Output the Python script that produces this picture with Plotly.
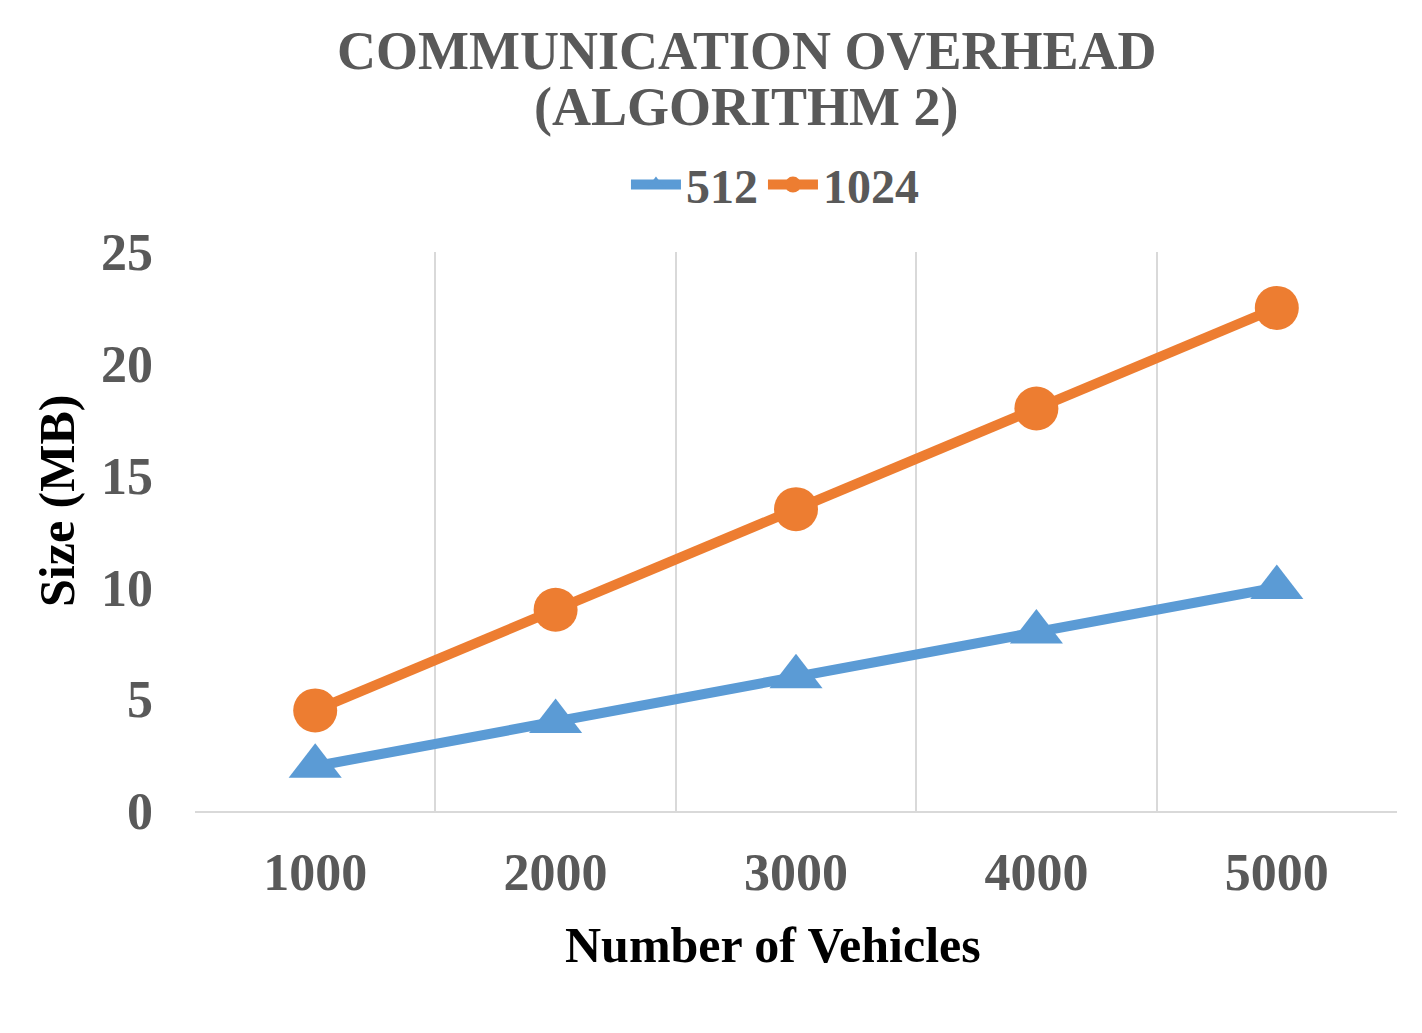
"""
Communication overhead (Algorithm 2) line chart, Excel-style, in Plotly.
"""
import plotly.graph_objects as go

vehicles = ["1000", "2000", "3000", "4000", "5000"]
size_512 = [2, 4, 6, 8, 10]
size_1024 = [4.5, 9, 13.5, 18, 22.5]
y_ticks = [0, 5, 10, 15, 20, 25]

SERIF = "Liberation Serif, Times New Roman, serif"
GREY_TEXT = "#595959"
GRID = "#D9D9D9"


def main() -> None:
    fig = go.Figure()

    fig.add_trace(go.Scatter(
        x=vehicles, y=size_512, name="512", mode="lines+markers",
        line=dict(color="#5B9BD5", width=10),
        marker=dict(symbol="triangle-up", size=46, color="#5B9BD5"),
    ))
    fig.add_trace(go.Scatter(
        x=vehicles, y=size_1024, name="1024", mode="lines+markers",
        line=dict(color="#ED7D31", width=10),
        marker=dict(symbol="circle", size=44, color="#ED7D31"),
    ))

    tick_font = dict(family=SERIF, size=52, color=GREY_TEXT, weight="bold")
    title_font = dict(family=SERIF, size=54, color=GREY_TEXT, weight="bold")
    axis_title_font = dict(family=SERIF, size=50, color="black", weight="bold")

    # the page body adds 8px, so margins are trimmed to keep the plot in place
    fig.update_layout(
        width=1422, height=1033,
        margin=dict(l=187, r=33, t=244, b=230),
        paper_bgcolor="white", plot_bgcolor="white",
        showlegend=True,
        legend=dict(
            orientation="h", x=0.4825, y=1.12, xanchor="center", yanchor="middle",
            font=dict(family=SERIF, size=48, color=GREY_TEXT, weight="bold"),
            itemsizing="trace", itemwidth=50, tracegroupgap=0,
        ),
        annotations=[
            dict(text="COMMUNICATION OVERHEAD", xref="paper", yref="paper",
                 x=0.459, y=1.3596, xanchor="center", yanchor="middle",
                 showarrow=False, font=title_font),
            dict(text="(ALGORITHM 2)", xref="paper", yref="paper",
                 x=0.459, y=1.2594, xanchor="center", yanchor="middle",
                 showarrow=False, font=title_font),
            dict(text="Number of Vehicles", xref="paper", yref="paper",
                 x=0.481, y=-0.2397, xanchor="center", yanchor="middle",
                 showarrow=False, font=axis_title_font),
            dict(text="Size (MB)", xref="paper", yref="paper",
                 x=-0.1148, y=0.5546, xanchor="center", yanchor="middle",
                 textangle=-90, showarrow=False, font=axis_title_font),
        ],
    )

    fig.update_xaxes(
        type="category", range=[-0.5, 4.5], tickson="boundaries",
        showgrid=True, gridcolor=GRID, gridwidth=2,
        showline=True, linecolor=GRID, linewidth=2,
        ticks="", tickfont=tick_font, ticklabelstandoff=15,
        zeroline=False,
    )
    fig.update_yaxes(
        range=[0, 25], tickvals=y_ticks,
        showgrid=False, zeroline=False, showline=False,
        ticks="", tickfont=tick_font, ticklabelstandoff=41,
    )

    fig.write_html("out.html")


if __name__ == "__main__":
    main()
